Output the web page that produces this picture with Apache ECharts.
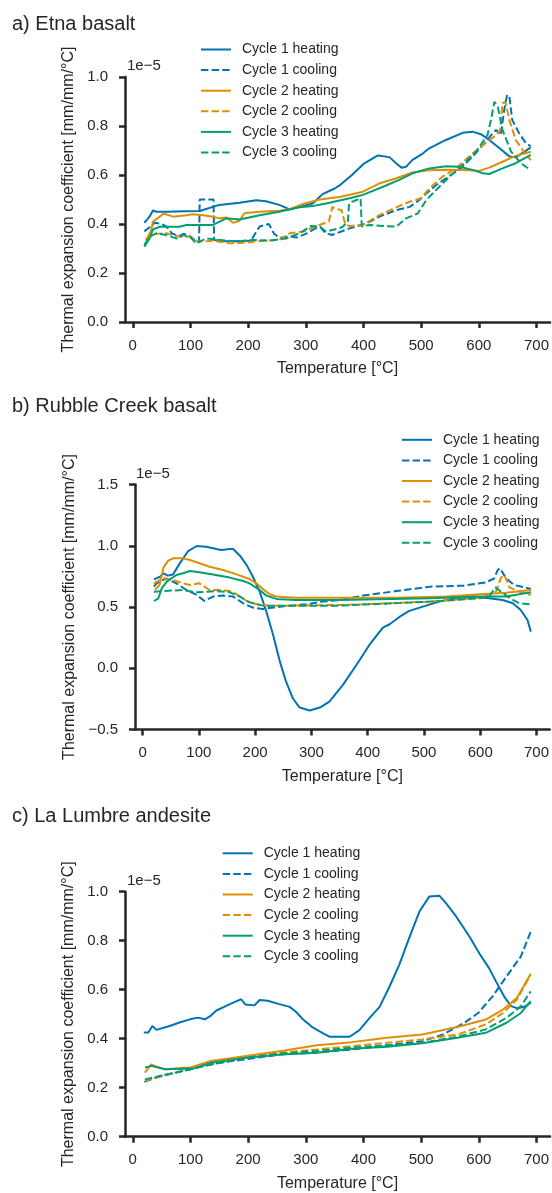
<!DOCTYPE html>
<html><head><meta charset="utf-8">
<script src="https://cdn.jsdelivr.net/npm/echarts@6/dist/echarts.min.js"></script>
<style>html,body{margin:0;padding:0;background:#fff}#c{width:552px;height:1193px}</style>
</head><body><div id="c"></div>
<script>
// ---------- DATA (values in units of 1e-5 mm/mm/°C, temperature in °C) ----------
const seriesNames = ['Cycle 1 heating','Cycle 1 cooling','Cycle 2 heating','Cycle 2 cooling','Cycle 3 heating','Cycle 3 cooling'];
const xTicks = [0,100,200,300,400,500,600,700];
const yTicksA = [0,0.2,0.4,0.6,0.8,1.0];
const yTicksB = [-0.5,0,0.5,1.0,1.5];
const yTicksC = [0,0.2,0.4,0.6,0.8,1.0];

// a) Etna basalt
const etnaC1Heat = [[20,0.405],[29,0.43],[35,0.455],[41,0.450],[60,0.450],[90,0.452],[116,0.453],[150,0.478],[185,0.487],[214,0.497],[231,0.493],[254,0.478],[272,0.460],[289,0.470],[312,0.484],[329,0.522],[350,0.545],[360,0.56],[380,0.600],[400,0.645],[425,0.680],[445,0.673],[458,0.645],[466,0.630],[474,0.634],[485,0.662],[500,0.683],[514,0.709],[543,0.743],[572,0.772],[589,0.777],[605,0.765],[618,0.743],[636,0.709],[653,0.676],[664,0.672],[676,0.690],[690,0.713]];
const etnaC1Cool = [[20,0.37],[28,0.385],[38,0.405],[50,0.40],[58,0.39],[68,0.362],[80,0.35],[88,0.36],[95,0.355],[102,0.345],[110,0.325],[115,0.33],[116,0.50],[130,0.50],[140,0.50],[141,0.335],[160,0.33],[180,0.33],[205,0.332],[212,0.36],[220,0.39],[236,0.40],[245,0.36],[255,0.343],[270,0.35],[285,0.345],[300,0.36],[315,0.38],[325,0.388],[333,0.365],[345,0.355],[376,0.382],[402,0.400],[428,0.430],[457,0.457],[480,0.470],[497,0.498],[509,0.525],[526,0.559],[549,0.596],[572,0.634],[589,0.675],[607,0.722],[624,0.770],[630,0.784],[638,0.763],[644,0.865],[649,0.927],[653,0.92],[658,0.824],[670,0.77],[682,0.729],[690,0.718]];
const etnaC2Heat = [[23,0.335],[29,0.36],[32,0.376],[35,0.41],[47,0.430],[53,0.443],[70,0.430],[93,0.436],[104,0.440],[122,0.436],[139,0.430],[150,0.423],[162,0.427],[174,0.405],[185,0.413],[192,0.44],[196,0.445],[220,0.450],[254,0.454],[272,0.460],[295,0.482],[324,0.500],[358,0.510],[376,0.519],[399,0.532],[428,0.566],[457,0.587],[485,0.610],[514,0.619],[543,0.621],[572,0.620],[601,0.617],[618,0.630],[641,0.654],[664,0.678],[690,0.695]];
const etnaC2Cool = [[23,0.335],[35,0.359],[58,0.362],[81,0.348],[99,0.348],[113,0.328],[139,0.332],[168,0.321],[197,0.324],[226,0.332],[254,0.335],[272,0.362],[295,0.369],[324,0.396],[340,0.41],[346,0.47],[350,0.463],[362,0.457],[366,0.42],[369,0.396],[376,0.392],[399,0.396],[428,0.437],[457,0.468],[480,0.491],[500,0.505],[514,0.545],[537,0.593],[560,0.627],[583,0.675],[607,0.722],[630,0.763],[637,0.784],[641,0.893],[646,0.899],[653,0.824],[664,0.743],[676,0.702],[690,0.661]];
const etnaC3Heat = [[20,0.307],[29,0.341],[35,0.378],[47,0.389],[81,0.389],[93,0.396],[127,0.396],[139,0.396],[162,0.423],[185,0.418],[220,0.436],[254,0.450],[289,0.468],[312,0.473],[341,0.487],[376,0.505],[399,0.519],[434,0.552],[462,0.580],[485,0.607],[514,0.627],[543,0.636],[566,0.634],[589,0.621],[607,0.607],[618,0.604],[641,0.627],[664,0.648],[690,0.682]];
const etnaC3Cool = [[20,0.314],[29,0.348],[41,0.362],[58,0.355],[76,0.341],[87,0.355],[99,0.348],[110,0.321],[127,0.341],[151,0.335],[179,0.328],[208,0.335],[237,0.332],[266,0.341],[289,0.362],[309,0.392],[324,0.389],[335,0.369],[358,0.382],[364,0.389],[373,0.41],[375,0.484],[380,0.49],[395,0.505],[397,0.39],[410,0.396],[434,0.392],[457,0.389],[474,0.423],[494,0.443],[509,0.498],[526,0.539],[549,0.593],[572,0.641],[595,0.695],[615,0.763],[621,0.824],[627,0.899],[633,0.878],[641,0.784],[656,0.695],[673,0.648],[690,0.62]];

// b) Rubble Creek basalt
const rcC1Heat = [[20,0.726],[31,0.747],[37,0.775],[45,0.756],[54,0.766],[66,0.856],[81,0.957],[96,0.998],[113,0.992],[131,0.973],[140,0.965],[155,0.973],[161,0.973],[173,0.919],[185,0.842],[196,0.747],[208,0.625],[220,0.462],[232,0.272],[244,0.054],[255,-0.11],[267,-0.245],[279,-0.321],[297,-0.345],[315,-0.321],[332,-0.272],[356,-0.136],[380,0.027],[403,0.19],[427,0.332],[439,0.359],[457,0.421],[474,0.468],[498,0.503],[527,0.544],[557,0.571],[587,0.585],[616,0.571],[640,0.557],[658,0.53],[672,0.476],[684,0.394],[690,0.299]];
const rcC1Cool = [[20,0.666],[25,0.693],[42,0.734],[60,0.693],[78,0.639],[96,0.598],[110,0.549],[125,0.585],[143,0.593],[161,0.585],[179,0.530],[196,0.495],[214,0.484],[232,0.495],[261,0.511],[291,0.522],[320,0.544],[350,0.557],[392,0.593],[451,0.630],[511,0.666],[570,0.674],[610,0.701],[625,0.734],[631,0.802],[635,0.816],[646,0.734],[660,0.680],[690,0.647]];
const rcC2Heat = [[22,0.64],[30,0.68],[37,0.821],[45,0.876],[54,0.897],[72,0.897],[84,0.884],[96,0.865],[119,0.829],[143,0.802],[167,0.766],[190,0.729],[202,0.693],[214,0.646],[226,0.604],[238,0.585],[273,0.576],[350,0.576],[451,0.576],[540,0.585],[599,0.604],[646,0.617],[690,0.639]];
const rcC2Cool = [[20,0.693],[37,0.734],[54,0.72],[72,0.693],[84,0.68],[101,0.693],[119,0.639],[137,0.639],[155,0.63],[167,0.604],[185,0.549],[202,0.522],[226,0.511],[261,0.511],[350,0.517],[392,0.522],[511,0.544],[599,0.576],[616,0.604],[628,0.625],[637,0.74],[643,0.76],[652,0.66],[670,0.625],[690,0.598]];
const rcC3Heat = [[20,0.549],[28,0.571],[34,0.652],[43,0.707],[60,0.761],[72,0.775],[84,0.794],[101,0.783],[125,0.766],[155,0.74],[179,0.712],[190,0.693],[208,0.639],[220,0.593],[238,0.566],[273,0.557],[350,0.557],[511,0.571],[599,0.585],[646,0.585],[690,0.62]];
const rcC3Cool = [[20,0.625],[37,0.63],[72,0.639],[96,0.62],[131,0.63],[155,0.62],[173,0.585],[190,0.538],[214,0.511],[244,0.511],[350,0.511],[511,0.544],[599,0.571],[616,0.585],[627,0.66],[637,0.625],[655,0.565],[670,0.530],[690,0.522]];

// c) La Lumbre andesite
const llC1Heat = [[19,0.425],[27,0.425],[34,0.452],[41,0.436],[64,0.452],[81,0.466],[99,0.479],[113,0.486],[125,0.479],[133,0.490],[145,0.515],[162,0.534],[176,0.549],[188,0.561],[195,0.540],[211,0.536],[220,0.558],[234,0.555],[254,0.541],[272,0.530],[283,0.510],[295,0.479],[312,0.446],[330,0.422],[341,0.408],[358,0.408],[376,0.408],[393,0.435],[410,0.483],[428,0.530],[445,0.612],[462,0.701],[480,0.816],[497,0.919],[514,0.980],[532,0.983],[543,0.953],[561,0.898],[584,0.816],[601,0.748],[618,0.687],[630,0.633],[644,0.572],[656,0.533],[667,0.524],[679,0.530],[690,0.547]];
const llC1Cool = [[20,0.224],[50,0.25],[75,0.262],[100,0.275],[135,0.295],[160,0.305],[197,0.316],[257,0.336],[319,0.343],[380,0.356],[441,0.373],[502,0.39],[538,0.417],[575,0.465],[599,0.505],[624,0.573],[648,0.654],[673,0.736],[690,0.837]];
const llC2Heat = [[21,0.262],[32,0.295],[38,0.289],[56,0.275],[99,0.282],[135,0.309],[197,0.329],[258,0.35],[319,0.373],[380,0.386],[441,0.404],[502,0.417],[563,0.448],[612,0.478],[642,0.519],[666,0.566],[690,0.665]];
const llC2Cool = [[21,0.228],[75,0.262],[136,0.302],[197,0.329],[258,0.343],[319,0.356],[380,0.37],[441,0.383],[502,0.397],[563,0.417],[612,0.458],[642,0.505],[666,0.56],[690,0.661]];
const llC3Heat = [[21,0.282],[32,0.289],[56,0.275],[105,0.278],[136,0.302],[197,0.322],[258,0.336],[319,0.343],[380,0.359],[441,0.367],[502,0.381],[563,0.404],[612,0.424],[648,0.465],[673,0.505],[690,0.553]];
const llC3Cool = [[21,0.234],[75,0.262],[136,0.295],[197,0.322],[258,0.34],[319,0.35],[380,0.363],[441,0.373],[502,0.383],[563,0.408],[612,0.438],[648,0.485],[673,0.533],[690,0.593]];

// ---------- LAYOUT / STYLE ----------
const FONT = '"Liberation Sans", Arial, Helvetica, sans-serif';
const TXT = '#262626';
const colors = ['#0173b2','#0173b2','#de8f05','#de8f05','#029e73','#029e73'];
const dashed = [false,true,false,true,false,true];

const panels = [
  {title:'a) Etna basalt', titleTop:14, data:[etnaC1Heat,etnaC1Cool,etnaC2Heat,etnaC2Cool,etnaC3Heat,etnaC3Cool],
   yMin:0, yMax:1, yTicks:yTicksA, grid:{left:125,top:77,width:426,height:245}, yNameGap:44.5,
   legend:{left:200,top:42.5}, off:{x:127,y:65}},
  {title:'b) Rubble Creek basalt', titleTop:396.5, data:[rcC1Heat,rcC1Cool,rcC2Heat,rcC2Cool,rcC3Heat,rcC3Cool],
   yMin:-0.5, yMax:1.5, yTicks:yTicksB, grid:{left:135,top:484.5,width:416,height:245}, yNameGap:54,
   legend:{left:401,top:432.8}, off:{x:136,y:473.3}},
  {title:'c) La Lumbre andesite', titleTop:806, data:[llC1Heat,llC1Cool,llC2Heat,llC2Cool,llC3Heat,llC3Cool],
   yMin:0, yMax:1, yTicks:yTicksC, grid:{left:125,top:891.7,width:426,height:245}, yNameGap:45.5,
   legend:{left:221.7,top:846.3}, off:{x:127,y:880}}
];

const fmtY = v => (v < 0 ? '\u2212' : '') + Math.abs(v).toFixed(1);

const option = {
  animation:false,
  backgroundColor:'#fff',
  textStyle:{fontFamily:FONT},
  title:[], grid:[], xAxis:[], yAxis:[], legend:[], series:[], graphic:[]
};

panels.forEach((p,i) => {
  option.title.push({text:p.title, left:12, top:p.titleTop, padding:0,
    textStyle:{fontSize:20, fontWeight:'normal', color:TXT, fontFamily:FONT}});
  option.grid.push(Object.assign({containLabel:false}, p.grid));
  option.xAxis.push({
    type:'value', gridIndex:i, min:-13.5, max:723.5,
    name:'Temperature [°C]', nameLocation:'middle', nameGap:39,
    nameTextStyle:{fontSize:16, color:TXT, fontFamily:FONT},
    axisLine:{onZero:false, lineStyle:{color:TXT, width:2.5}},
    axisTick:{show:true, length:6, lineStyle:{color:TXT, width:2.5}, customValues:xTicks},
    axisLabel:{fontSize:15, color:TXT, margin:16, fontFamily:FONT, customValues:xTicks, formatter:v=>String(v)},
    splitLine:{show:false}
  });
  option.yAxis.push({
    type:'value', gridIndex:i, min:p.yMin, max:p.yMax,
    name:'Thermal expansion coefficient [mm/mm/°C]', nameLocation:'middle', nameGap:p.yNameGap,
    nameTextStyle:{fontSize:16, color:TXT, fontFamily:FONT},
    axisLine:{show:true, onZero:false, lineStyle:{color:TXT, width:2.5}},
    axisTick:{show:true, length:6, lineStyle:{color:TXT, width:2.5}, customValues:p.yTicks},
    axisLabel:{fontSize:15, color:TXT, margin:17, fontFamily:FONT, customValues:p.yTicks, formatter:fmtY},
    splitLine:{show:false}
  });
  option.legend.push({
    orient:'vertical', left:p.legend.left, top:p.legend.top, padding:0,
    itemWidth:30, itemHeight:14, itemGap:6.6,
    data:seriesNames, selectedMode:false,
    itemStyle:{opacity:0},
    textStyle:{fontSize:14, color:TXT, fontFamily:FONT, padding:[0,0,0,6], lineHeight:14}
  });
  option.graphic.push({type:'text', left:p.off.x, top:p.off.y-7,
    style:{text:'1e\u22125', fontSize:15, fill:TXT, fontFamily:FONT}});
  p.data.forEach((d,k) => {
    option.series.push({
      name:seriesNames[k], type:'line', xAxisIndex:i, yAxisIndex:i,
      data:d, symbol:'none', showSymbol:false, smooth:false,
      color:colors[k],
      lineStyle:{color:colors[k], width:2, type: dashed[k] ? [7.4,3.2] : 'solid'},
      emphasis:{disabled:true}
    });
  });
});

const chart = echarts.init(document.getElementById('c'));
chart.setOption(option);
</script>
</body></html>
